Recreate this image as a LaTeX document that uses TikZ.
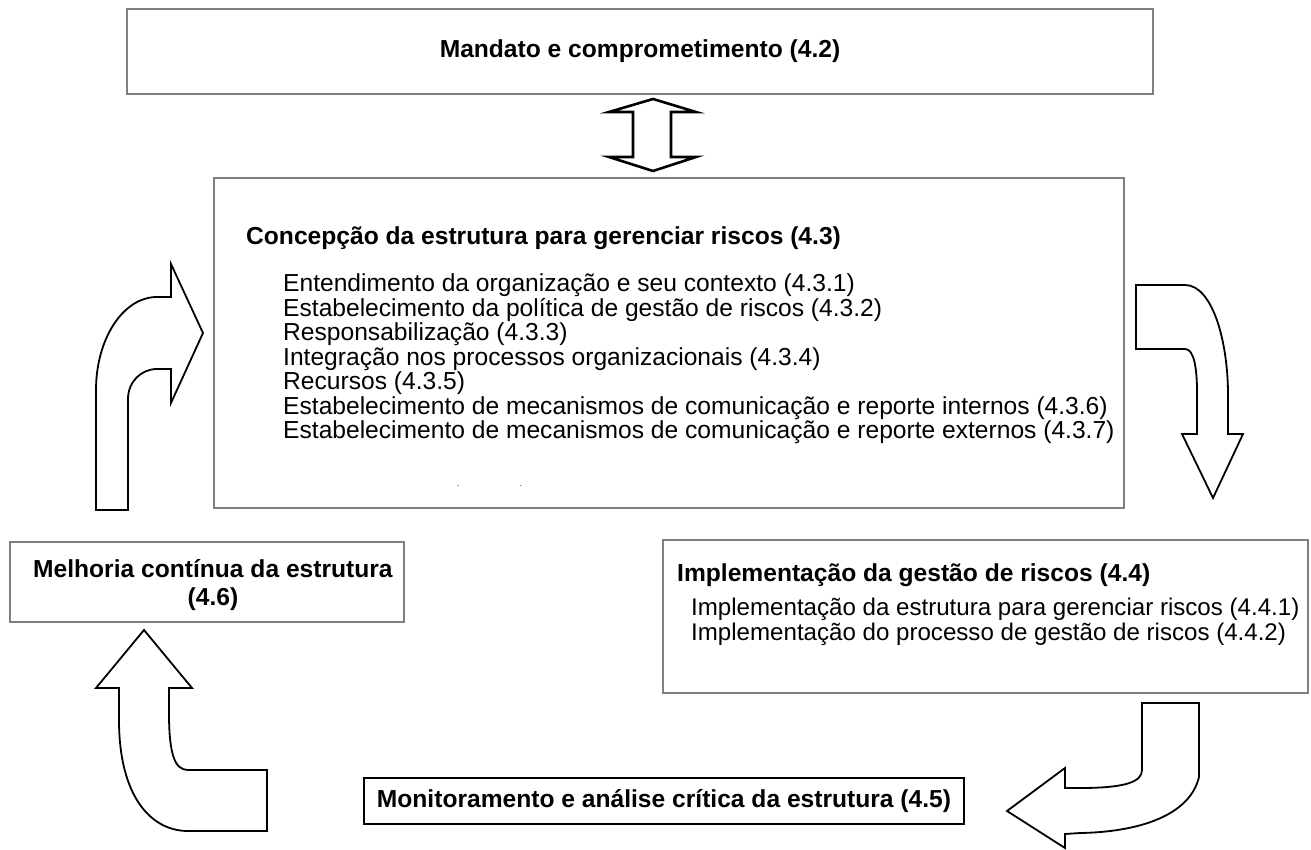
\documentclass[tikz,border=0pt]{standalone}
\usepackage{fontspec}
\setmainfont{Liberation Sans}
\usetikzlibrary{calc}
\newcommand{\txtsize}{\fontsize{24.6}{24.5}\selectfont}

\begin{document}
\begin{tikzpicture}[x=1pt,y=-1pt,
  every node/.style={font=\txtsize, inner sep=0pt},
  frame/.style={draw=black!50, line width=1.6pt},
  blockarrow/.style={draw=black, line width=1.8pt, fill=white, line join=miter}]
\useasboundingbox (0,0) rectangle (1311,850);

\node[frame, minimum width=1026, minimum height=85] (mandato) at (640,51.5)
  {\textbf{Mandato e comprometimento (4.2)}};

\node[frame, minimum width=910, minimum height=330] (concepcao) at (669,343) {};
\node[anchor=west] (concepcaotitle) at (246,238)
  {\textbf{Concepção da estrutura para gerenciar riscos (4.3)}};
\node[anchor=west, align=left] (concepcaolist) at (283,359) {
Entendimento da organização e seu contexto (4.3.1)\\
Estabelecimento da política de gestão de riscos (4.3.2)\\
Responsabilização (4.3.3)\\
Integração nos processos organizacionais (4.3.4)\\
Recursos (4.3.5)\\
Estabelecimento de mecanismos de comunicação e reporte internos (4.3.6)\\
Estabelecimento de mecanismos de comunicação e reporte externos (4.3.7)};
\node[font=\fontsize{8}{8}\selectfont] (dotA) at (458,486) {.};
\node[font=\fontsize{8}{8}\selectfont] (dotB) at (521,486) {.};

\node[frame, minimum width=394, minimum height=80, align=center] (melhoria) at (207,582) {};
\node[align=center] (melhoriatext) at (213,585)
  {\textbf{Melhoria contínua da estrutura}\\[3.5pt]\textbf{(4.6)}};

\node[frame, minimum width=645, minimum height=153] (implementacao) at (985.5,616.5) {};
\node[anchor=west] (implementacaotitle) at (677,575)
  {\textbf{Implementação da gestão de riscos (4.4)}};
\node[anchor=west, align=left, font=\fontsize{24.1}{24.5}\selectfont] (implementacaolist) at (691,622) {
Implementação da estrutura para gerenciar riscos (4.4.1)\\
Implementação do processo de gestão de riscos (4.4.2)};

\node[draw=black, line width=1.3pt, minimum width=600, minimum height=46] (monitoramento) at (664,801)
  {\textbf{Monitoramento e análise crítica da estrutura (4.5)}};

\draw[blockarrow, line width=2.6pt]
(653,99) -- (696,112) -- (671,112) -- (671,157) -- (696,157) -- (653,171)
-- (609,157) -- (633,157) -- (633,112) -- (609,112) -- cycle;

\draw[blockarrow]
(96,510) -- (96,390) .. controls (96,339) and (123,297) .. (157,297)
-- (171,297) -- (171,264) -- (203,333) -- (171,403) -- (171,369) -- (157,369)
.. controls (141,369) and (128,382) .. (128,399) -- (128,510) -- cycle;

\draw[blockarrow]
(1136,285) -- (1185,285) .. controls (1212,285) and (1228,340) .. (1228,395)
-- (1228,434) -- (1243,434) -- (1213,498) -- (1182,434) -- (1197,434) -- (1197,392)
.. controls (1197,368) and (1194,349) .. (1185,349) -- (1136,349) -- cycle;

\draw[blockarrow]
(144,630) -- (192,688) -- (169,688) -- (169,713) .. controls (169,755) and (175,770) .. (188,770)
-- (267,770) -- (267,831) -- (188,831) .. controls (150,831) and (119,795) .. (119,720)
-- (119,688) -- (96,688) -- cycle;

\draw[blockarrow]
(1142,703) -- (1199,703) -- (1199,777) .. controls (1190,815) and (1140,832) .. (1080,833)
-- (1065,834) -- (1065,848) -- (1007,811) -- (1065,768) -- (1065,788) -- (1080,788)
.. controls (1125,788) and (1142,782) .. (1142,770) -- cycle;
\end{tikzpicture}
\end{document}
